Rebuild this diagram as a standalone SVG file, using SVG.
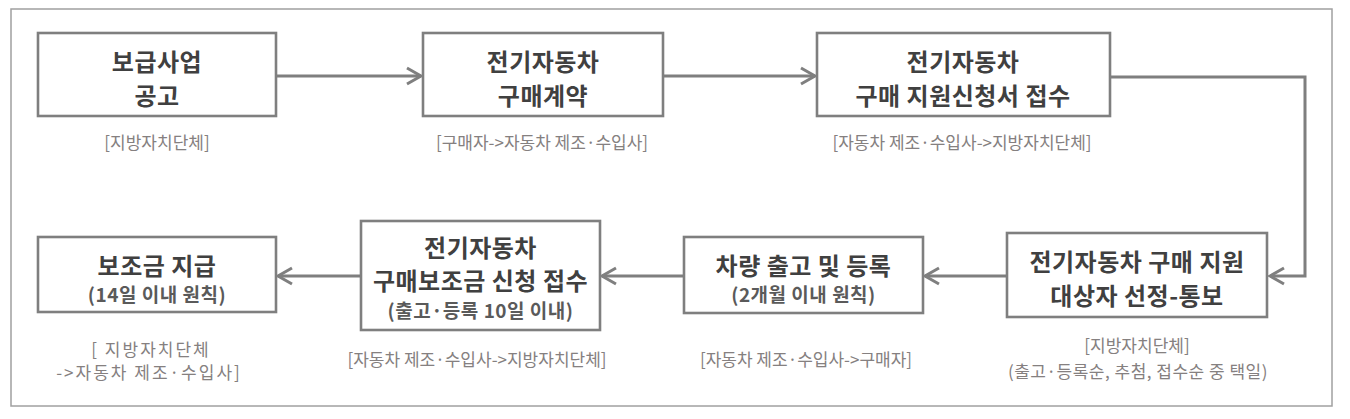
<svg xmlns="http://www.w3.org/2000/svg" width="1350" height="419" viewBox="0 0 1350 419">
<defs>
<style>
.frame{fill:#fff;stroke:#a0a0a0;stroke-width:1.5}
.box{fill:#fff;stroke:#7f7f7f;stroke-width:2.6}
.t{font-family:"Noto Sans CJK KR","Noto Sans",sans-serif;font-weight:bold;font-size:24px;fill:#404040;text-anchor:middle;letter-spacing:0.5px}
.s{font-family:"Noto Sans CJK KR","Noto Sans",sans-serif;font-weight:bold;font-size:19px;fill:#5a5a5a;text-anchor:middle;letter-spacing:0.5px}
.l{font-family:"Noto Sans CJK KR","Noto Sans",sans-serif;font-size:17px;fill:#858080;text-anchor:middle}
.c{fill:none;stroke:#7f7f7f;stroke-width:3}
</style>
<marker id="arr" markerUnits="userSpaceOnUse" markerWidth="22" markerHeight="22" viewBox="0 0 22 22" refX="18" refY="11" orient="auto">
<path d="M4,3 L18,11 L4,19" fill="none" stroke="#7f7f7f" stroke-width="3"/>
</marker>
</defs>
<rect class="frame" x="11" y="9" width="1321" height="397"/>
<g id="connectors">
<path class="c" d="M276,76 H421" marker-end="url(#arr)"/>
<path class="c" d="M663,76 H815" marker-end="url(#arr)"/>
<path class="c" d="M1110,77 H1305 V276 H1270" marker-end="url(#arr)"/>
<path class="c" d="M1007,276 H925" marker-end="url(#arr)"/>
<path class="c" d="M684,276 H602" marker-end="url(#arr)"/>
<path class="c" d="M361,276 H278" marker-end="url(#arr)"/>
</g>
<g id="n1">
<rect class="box" x="38" y="33" width="238" height="83"/>
<text class="t" x="157" y="71">보급사업</text>
<text class="t" x="157" y="105" letter-spacing="2">공고</text>
<text class="l" x="157" y="149">[지방자치단체]</text>
</g>
<g id="n2">
<rect class="box" x="423" y="33" width="240" height="83"/>
<text class="t" x="543" y="71">전기자동차</text>
<text class="t" x="543" y="105">구매계약</text>
<text class="l" x="542" y="149">[구매자-&gt;자동차 제조·수입사]</text>
</g>
<g id="n3">
<rect class="box" x="817" y="33" width="293" height="83"/>
<text class="t" x="963" y="71">전기자동차</text>
<text class="t" x="963" y="105">구매 지원신청서 접수</text>
<text class="l" x="962" y="149">[자동차 제조·수입사-&gt;지방자치단체]</text>
</g>
<g id="n4">
<rect class="box" x="1007" y="233" width="260" height="84"/>
<text class="t" x="1137" y="271" font-size="23" letter-spacing="0">전기자동차 구매 지원</text>
<text class="t" x="1137" y="305" font-size="23">대상자 선정-통보</text>
<text class="l" x="1137" y="352">[지방자치단체]</text>
<text class="l" x="1138" y="378" letter-spacing="0.5">(출고·등록순, 추첨, 접수순 중 택일)</text>
</g>
<g id="n7">
<rect class="box" x="684" y="237" width="239" height="76"/>
<text class="t" x="803.5" y="275" letter-spacing="1">차량 출고 및 등록</text>
<text class="s" x="803.5" y="302">(2개월 이내 원칙)</text>
<text class="l" x="806" y="366">[자동차 제조·수입사-&gt;구매자]</text>
</g>
<g id="n6">
<rect class="box" x="361" y="221" width="239" height="109"/>
<text class="t" x="480.5" y="257">전기자동차</text>
<text class="t" x="480.5" y="290">구매보조금 신청 접수</text>
<text class="s" x="480.5" y="318" font-size="18">(출고·등록 10일 이내)</text>
<text class="l" x="477" y="366">[자동차 제조·수입사-&gt;지방자치단체]</text>
</g>
<g id="n5">
<rect class="box" x="38" y="237" width="238" height="75"/>
<text class="t" x="157" y="275">보조금 지급</text>
<text class="s" x="157" y="302">(14일 이내 원칙)</text>
<text class="l" x="151" y="356" font-size="16" letter-spacing="2">[ 지방자치단체</text>
<text class="l" x="149" y="379" font-size="16" letter-spacing="2">-&gt;자동차 제조·수입사]</text>
</g>
</svg>
